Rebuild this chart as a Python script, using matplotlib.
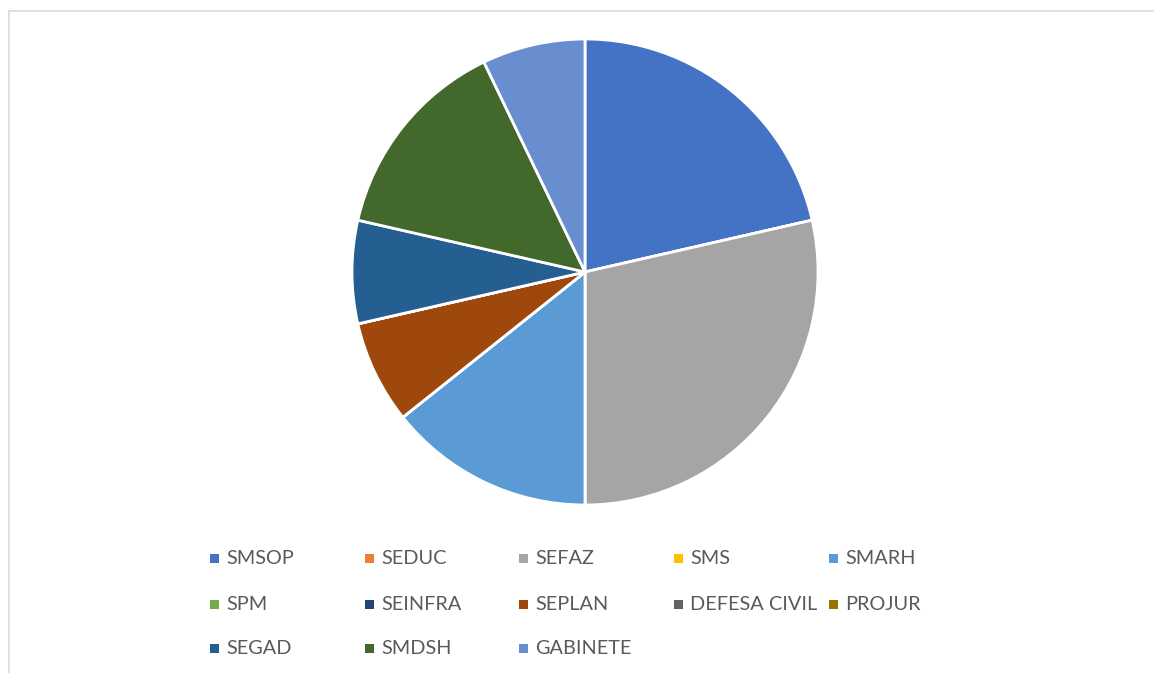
import matplotlib
matplotlib.use("Agg")
import matplotlib.pyplot as plt
from matplotlib.patches import Rectangle
from matplotlib.lines import Line2D

categories = ["SMSOP", "SEDUC", "SEFAZ", "SMS", "SMARH",
              "SPM", "SEINFRA", "SEPLAN", "DEFESA CIVIL", "PROJUR",
              "SEGAD", "SMDSH", "GABINETE"]
values = [3, 0, 4, 0, 2, 0, 0, 1, 0, 0, 1, 2, 1]
colors = ["#4472C4", "#ED7D31", "#A5A5A5", "#FFC000", "#5B9BD5",
          "#70AD47", "#264478", "#9E480E", "#636363", "#997300",
          "#255E91", "#43682B", "#698ED0"]

W, H = 1154, 673
fig = plt.figure(figsize=(W / 100, H / 100), dpi=100)
fig.patch.set_facecolor("white")

# border (top and left visible)
fig.add_artist(Line2D([8.5 / W, 1.0], [1 - 10.5 / H, 1 - 10.5 / H], color="#D9D9D9", lw=1.2))
fig.add_artist(Line2D([8.5 / W, 8.5 / W], [0, 1 - 10.5 / H], color="#D9D9D9", lw=1.2))

cx, cy, r = 585, 272, 233
ax = fig.add_axes([(cx - r) / W, (H - cy - r) / H, 2 * r / W, 2 * r / H])
ax.pie(values, colors=colors, startangle=90, counterclock=False, radius=1,
       wedgeprops=dict(edgecolor="white", linewidth=2))
ax.set_xlim(-1.0, 1.0)
ax.set_ylim(-1.0, 1.0)
ax.set_aspect("equal")
ax.axis("off")

# legend laid out as in the reference
col_x = [214, 369, 523, 678, 833]
row_y = [558, 604, 648]
sq = 9
for i, (lab, c) in enumerate(zip(categories, colors)):
    row, col = divmod(i, 5)
    mx, my = col_x[col], row_y[row]
    fig.add_artist(Rectangle(((mx - sq / 2) / W, (H - my - sq / 2) / H), sq / W, sq / H,
                             facecolor=c, edgecolor="none", transform=fig.transFigure))
    fig.text((mx + 12) / W, (H - my) / H, lab, ha="left", va="center",
             fontsize=14.3, color="#595959", family="Lato")

fig.savefig("out.png", dpi=100)
